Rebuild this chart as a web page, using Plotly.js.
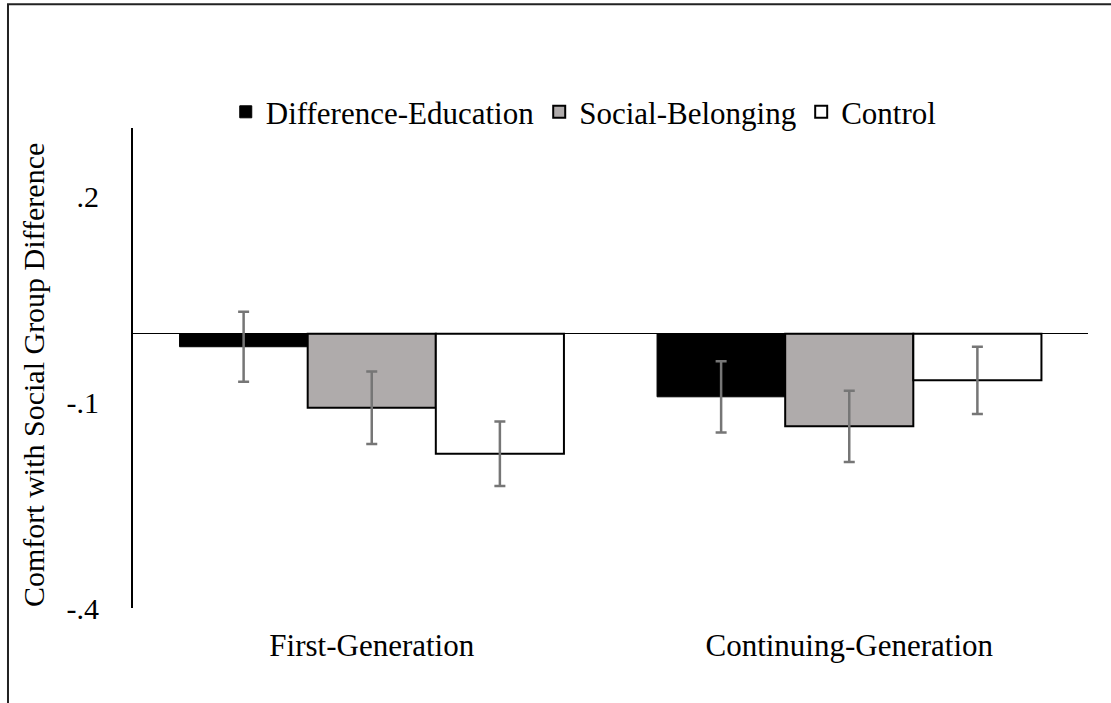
<!DOCTYPE html>
<html>
<head>
<meta charset="utf-8">
<script src="https://cdn.plot.ly/plotly-3.0.1.min.js"></script>
<style>html,body{margin:0;padding:0;background:#fff;}#chart{width:1111px;height:703px;}</style>
</head>
<body>
<div id="chart"></div>
<script>
const categories = ["First-Generation", "Continuing-Generation"];
const seriesNames = ["Difference-Education", "Social-Belonging", "Control"];
const diffEducation = [-0.019, -0.092];
const socialBelonging = [-0.108, -0.135];
const control = [-0.175, -0.068];
const diffEducationErr = [0.051, 0.052];
const socialBelongingErr = [0.053, 0.052];
const controlErr = [0.047, 0.049];
const yTickVals = [-0.4, -0.1, 0.2];
const yTickText = ["-.4", "-.1", ".2"];
const yTitle = "Comfort with Social Group Difference";

const FONT = "Liberation Serif";
const errStyle = {type: "data", visible: true, color: "#767676", thickness: 2.5, width: 5.5};

function barTrace(name, y, err, fill, lineW) {
  return {
    type: "bar", name: name, x: categories, y: y,
    marker: {color: fill, line: {color: "#000", width: lineW}},
    error_y: Object.assign({array: err}, errStyle)
  };
}

const data = [
  barTrace(seriesNames[0], diffEducation, diffEducationErr, "#000000", 1),
  barTrace(seriesNames[1], socialBelonging, socialBelongingErr, "#afabab", 2),
  barTrace(seriesNames[2], control, controlErr, "#ffffff", 2)
];

const layout = {
  width: 1111, height: 703,
  paper_bgcolor: "#fff", plot_bgcolor: "#fff",
  margin: {l: 133, r: 23, t: 128, b: 95},
  font: {family: FONT, size: 30, color: "#000"},
  barmode: "group", bargap: 0.195, bargroupgap: 0,
  showlegend: true,
  legend: {
    orientation: "h", x: 0.472, xanchor: "center", y: 1.033, yanchor: "middle",
    font: {family: FONT, size: 31, color: "#000"},
    itemwidth: 30, tracegroupgap: 0, bgcolor: "rgba(0,0,0,0)"
  },
  xaxis: {
    showline: false, showgrid: false, zeroline: false, ticks: "",
    tickfont: {family: FONT, size: 31, color: "#000"}, ticklabelstandoff: 16
  },
  yaxis: {
    range: [-0.4, 0.3], tickvals: yTickVals, ticktext: yTickText,
    showline: true, linecolor: "#000", linewidth: 2,
    showgrid: false, zeroline: true, zerolinecolor: "#000", zerolinewidth: 1.5,
    ticks: "", ticklabelstandoff: 26,
    tickfont: {family: FONT, size: 30, color: "#000"}
  },
  annotations: [{
    text: yTitle, xref: "paper", yref: "paper",
    x: -0.1047, y: 0.4854, xanchor: "center", yanchor: "middle",
    textangle: -90, showarrow: false,
    font: {family: FONT, size: 30, color: "#000"}
  }],
  shapes: [{
    type: "rect", xref: "paper", yref: "paper",
    x0: -0.1309, x1: 1.2, y0: -0.4, y1: 1.258,
    line: {color: "#222", width: 2}, fillcolor: "rgba(0,0,0,0)", layer: "below"
  }]
};

Plotly.newPlot("chart", data, layout, {displayModeBar: false, staticPlot: true});
</script>
</body>
</html>
